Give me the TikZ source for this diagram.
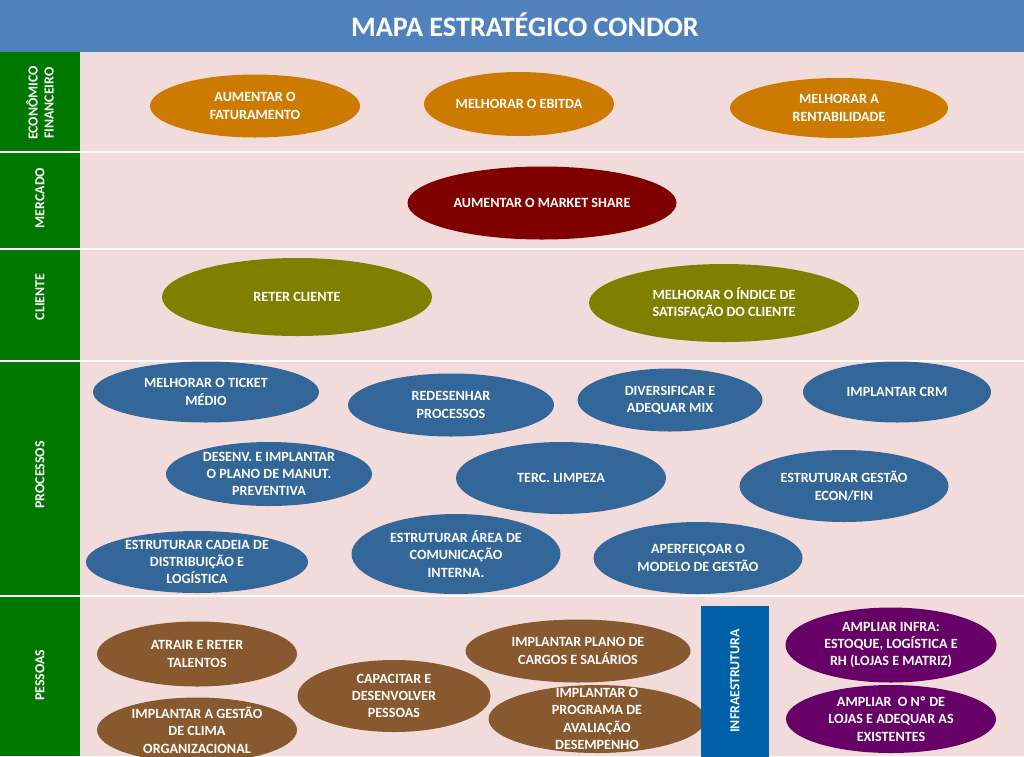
\documentclass[tikz,border=0pt]{standalone}
\usepackage{fontspec}
\setmainfont{Carlito}
\definecolor{bgpink}{RGB}{242,220,219}
\definecolor{lanegreen}{RGB}{0,120,0}
\definecolor{titleblue}{RGB}{79,129,189}
\definecolor{gorange}{RGB}{204,122,0}
\definecolor{gred}{RGB}{128,0,0}
\definecolor{golive}{RGB}{128,128,0}
\definecolor{gblue}{RGB}{51,102,153}
\definecolor{gbrown}{RGB}{136,89,46}
\definecolor{gpurple}{RGB}{102,0,102}
\definecolor{infrablue}{RGB}{0,96,168}
\newcommand{\goal}[7]{%
  \fill[#6] (#2,#3) ellipse ({#4pt/2} and {#5pt/2});
  \node[goaltext] (#1) at (#2,#3) {#7};}
\begin{document}
\begin{tikzpicture}[x=1pt,y=-1pt,
  goaltext/.style={text=white,font=\bfseries\fontsize{14.1}{17.3}\selectfont,align=center,inner sep=0pt},
  lanetext/.style={text=white,font=\bfseries\fontsize{13.8}{16}\selectfont,align=center,inner sep=0pt,rotate=90},
  sep/.style={white,line width=2pt}]
\useasboundingbox (0,0) rectangle (1024,756);
\clip (0,0) rectangle (1024,756);
% backgrounds
\fill[bgpink] (0,0) rectangle (1024,756);
\fill[lanegreen] (0,52) rectangle (80,756);
\fill[titleblue] (0,0) rectangle (1024,52);
\node[text=white,font=\bfseries\fontsize{28.2}{33}\selectfont,inner sep=0pt] (title) at (525,25) {MAPA ESTRATÉGICO CONDOR};
% separators
\draw[sep] (0,152) -- (1024,152);
\draw[sep] (0,249) -- (1024,249);
\draw[sep] (0,361) -- (1024,361);
\draw[sep] (0,596) -- (1024,596);
% lane labels
\node[lanetext] (lecon) at (40,103) {ECONÔMICO\\FINANCEIRO};
\node[lanetext] (lmerc) at (40,198) {MERCADO};
\node[lanetext] (lcli) at (40,297) {CLIENTE};
\node[lanetext] (lproc) at (40,475) {PROCESSOS};
\node[lanetext] (lpes) at (40,675) {PESSOAS};
% economico financeiro
\goal{fat}{255}{106}{210}{63}{gorange}{AUMENTAR O\\FATURAMENTO}
\goal{ebitda}{519}{104}{190}{64}{gorange}{MELHORAR O EBITDA}
\goal{rent}{839}{108}{218}{60}{gorange}{MELHORAR A\\RENTABILIDADE}
% mercado
\goal{market}{542}{203}{269}{73}{gred}{AUMENTAR O MARKET SHARE}
% cliente
\goal{reter}{297}{297}{270}{78}{golive}{RETER CLIENTE}
\goal{satisf}{724}{303}{270}{78}{golive}{MELHORAR O ÍNDICE DE\\SATISFAÇÃO DO CLIENTE}
% processos
\goal{ticket}{206}{392}{226}{61}{gblue}{MELHORAR O TICKET\\MÉDIO}
\goal{redes}{451}{405}{206}{63}{gblue}{REDESENHAR\\PROCESSOS}
\goal{divers}{670}{400}{185}{63}{gblue}{DIVERSIFICAR E\\ADEQUAR MIX}
\goal{crm}{897}{392}{188}{61}{gblue}{IMPLANTAR CRM}
\goal{manut}{269}{474}{206}{64}{gblue}{DESENV. E IMPLANTAR\\O PLANO DE MANUT.\\PREVENTIVA}
\goal{limpeza}{561}{478}{210}{72}{gblue}{TERC. LIMPEZA}
\goal{econfin}{844}{486}{209}{72}{gblue}{ESTRUTURAR GESTÃO\\ECON/FIN}
\goal{cadeia}{197}{562}{222}{62}{gblue}{ESTRUTURAR CADEIA DE\\DISTRIBUIÇÃO E\\LOGÍSTICA}
\goal{comun}{456}{554}{209}{80}{gblue}{ESTRUTURAR ÁREA DE\\COMUNICAÇÃO\\INTERNA.}
\goal{modelo}{698}{558}{209}{72}{gblue}{APERFEIÇOAR O\\MODELO DE GESTÃO}
% pessoas
\goal{talentos}{197}{654}{200}{65}{gbrown}{ATRAIR E RETER\\TALENTOS}
\goal{clima}{197}{730}{200}{65}{gbrown}{IMPLANTAR A GESTÃO\\DE CLIMA\\ORGANIZACIONAL}
\goal{capac}{394}{696}{193}{72}{gbrown}{CAPACITAR E\\DESENVOLVER\\PESSOAS}
\goal{cargos}{578}{651}{225}{63}{gbrown}{IMPLANTAR PLANO DE\\CARGOS E SALÁRIOS}
\goal{avalia}{597}{719}{217}{68}{gbrown}{IMPLANTAR O\\PROGRAMA DE\\AVALIAÇÃO\\DESEMPENHO}
% infraestrutura
\fill[infrablue] (701,606) rectangle (769,760);
\node[lanetext] (linfra) at (735,681) {INFRAESTRUTURA};
\goal{ampinfra}{891}{645}{211}{75}{gpurple}{AMPLIAR INFRA:\\ESTOQUE, LOGÍSTICA E\\RH (LOJAS E MATRIZ)}
\goal{lojas}{891}{719}{210}{68}{gpurple}{AMPLIAR \ O Nº DE\\LOJAS E ADEQUAR AS\\EXISTENTES}
\end{tikzpicture}
\end{document}
